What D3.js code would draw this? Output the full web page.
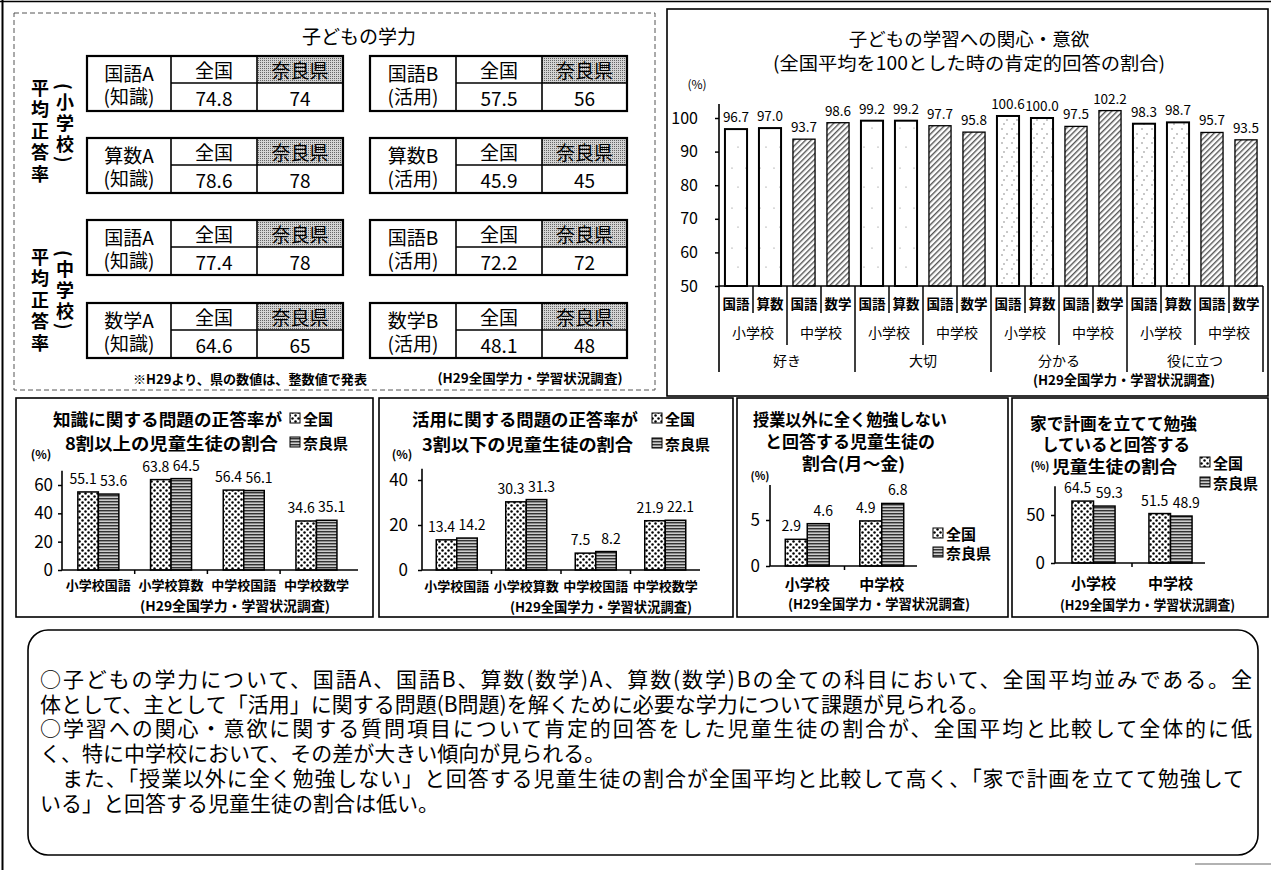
<!DOCTYPE html>
<html lang="ja">
<head>
<meta charset="UTF-8">
<title>子どもの学力・学習状況</title>
<style>
  body { margin: 0; background: #fff; }
  svg { display: block; }
</style>
</head>
<body>
<script src="https://cdnjs.cloudflare.com/ajax/libs/d3/7.8.5/d3.min.js"></script>
<script>
// ---- data ----
const tableSubjects = ['国語A', '国語B', '算数A', '算数B', '国語A', '国語B', '数学A', '数学B'];
const tableKinds = ['(知識)', '(活用)', '(知識)', '(活用)', '(知識)', '(活用)', '(知識)', '(活用)'];
const tableHeads = ['全国', '奈良県'];
const tableNational = [74.8, 57.5, 78.6, 45.9, 77.4, 72.2, 64.6, 48.1];
const tableNara = [74, 56, 78, 45, 78, 72, 65, 48];
const schoolLevels = ['小学校', '中学校'];

const interestGroups = ['好き', '大切', '分かる', '役に立つ'];
const interestSubjects = ['国語', '算数', '国語', '数学'];
const interestValues = [96.7, 97.0, 93.7, 98.6, 99.2, 99.2, 97.7, 95.8, 100.6, 100.0, 97.5, 102.2, 98.3, 98.7, 95.7, 93.5];
const interestTicks = [50, 60, 70, 80, 90, 100];

const seriesNames = ['全国', '奈良県'];
const subjectCats = ['小学校国語', '小学校算数', '中学校国語', '中学校数学'];
const knowNational = [55.1, 63.8, 56.4, 34.6];
const knowNara = [53.6, 64.5, 56.1, 35.1];
const useNational = [13.4, 30.3, 7.5, 21.9];
const useNara = [14.2, 31.3, 8.2, 22.1];
const noStudyNational = [2.9, 4.9];
const noStudyNara = [4.6, 6.8];
const planNational = [64.5, 51.5];
const planNara = [59.3, 48.9];

const source = '(H29全国学力・学習状況調査)';
const summaryLines = [
  '○子どもの学力について、国語A、国語B、算数(数学)A、算数(数学)Bの全ての科目において、全国平均並みである。全',
  '体として、主として「活用」に関する問題(B問題)を解くために必要な学力について課題が見られる。',
  '○学習への関心・意欲に関する質問項目について肯定的回答をした児童生徒の割合が、全国平均と比較して全体的に低',
  'く、特に中学校において、その差が大きい傾向が見られる。',
  '　また、「授業以外に全く勉強しない」と回答する児童生徒の割合が全国平均と比較して高く、「家で計画を立てて勉強して',
  'いる」と回答する児童生徒の割合は低い。'
];

// ---- setup ----
const FONT = '"Noto Sans CJK JP", "Noto Sans", sans-serif';
const fmt1 = d3.format('.1f');
const svg = d3.select('body').append('svg')
  .attr('width', 1271).attr('height', 870)
  .attr('font-family', FONT);
svg.append('rect').attr('width', 1271).attr('height', 870).attr('fill', '#fff');
const defs = svg.append('defs');

function pattern(id, w, h, draw) {
  const p = defs.append('pattern').attr('id', id)
    .attr('patternUnits', 'userSpaceOnUse').attr('width', w).attr('height', h);
  draw(p);
  return p;
}
pattern('dots', 6, 6, p => {
  p.append('rect').attr('width', 6).attr('height', 6).attr('fill', '#fff');
  p.append('circle').attr('cx', 1.5).attr('cy', 1.5).attr('r', 1.25).attr('fill', '#000');
  p.append('circle').attr('cx', 4.5).attr('cy', 4.5).attr('r', 1.25).attr('fill', '#000');
});
pattern('nara', 4, 3, p => {
  p.append('rect').attr('width', 4).attr('height', 3).attr('fill', '#8a8a8a');
  p.append('rect').attr('width', 4).attr('height', 1).attr('fill', '#333');
  p.append('rect').attr('y', 2).attr('width', 4).attr('height', 0.8).attr('fill', '#ddd');
});
pattern('hatch', 4, 4, p => {
  p.attr('patternTransform', 'rotate(45)');
  p.append('rect').attr('width', 4).attr('height', 4).attr('fill', '#fff');
  p.append('rect').attr('width', 1.4).attr('height', 4).attr('fill', '#555');
});
pattern('sparse', 14, 40, p => {
  p.append('rect').attr('width', 14).attr('height', 40).attr('fill', '#fff');
  p.append('circle').attr('cx', 4).attr('cy', 8).attr('r', 0.6).attr('fill', '#777');
  p.append('circle').attr('cx', 10).attr('cy', 27).attr('r', 0.6).attr('fill', '#777');
});
pattern('speckle', 10, 14, p => {
  p.append('rect').attr('width', 10).attr('height', 14).attr('fill', '#fff');
  [[2, 3], [7, 8], [4, 12]].forEach(([x, y]) =>
    p.append('circle').attr('cx', x).attr('cy', y).attr('r', 0.7).attr('fill', '#666'));
});
pattern('stipple', 2, 2, p => {
  p.append('rect').attr('width', 2).attr('height', 2).attr('fill', '#d4d4d4');
  p.append('rect').attr('width', 1).attr('height', 1).attr('fill', '#666');
});

function label(g, x, y, s, size, opt = {}) {
  const t = g.append('text').attr('x', x).attr('y', y)
    .attr('font-size', size)
    .attr('text-anchor', opt.anchor || 'middle')
    .attr('dominant-baseline', 'central')
    .attr('font-weight', opt.bold ? 'bold' : null)
    .text(s);
  if (opt.len) t.attr('textLength', opt.len).attr('lengthAdjust', 'spacingAndGlyphs');
  return t;
}
function vlabel(g, x, y, s, size, spacing) {
  return g.append('text').attr('x', x).attr('y', y)
    .attr('font-size', size).attr('font-weight', 'bold')
    .style('writing-mode', 'vertical-rl')
    .attr('letter-spacing', spacing)
    .text(s);
}
function line(g, x1, y1, x2, y2, w = 1.5, color = '#000') {
  return g.append('line').attr('x1', x1).attr('y1', y1).attr('x2', x2).attr('y2', y2)
    .attr('stroke', color).attr('stroke-width', w);
}

// page frame
line(svg, 2.5, 0, 2.5, 870, 2);
line(svg, 0, 1.5, 1271, 1.5, 1.5);

// ---- top left: tables ----
const tl = svg.append('g');
tl.append('rect').attr('x', 14).attr('y', 13).attr('width', 641).attr('height', 377)
  .attr('fill', 'none').attr('stroke', '#555').attr('stroke-width', 1).attr('stroke-dasharray', '5,3');
label(tl, 359, 35, '子どもの学力', 19);

[[79, 83], [248, 250]].forEach(([top, ptop], b) => {
  vlabel(tl, 40, top, '平均正答率', 18, 3.5);
  vlabel(tl, 65, ptop, '(' + schoolLevels[b] + ')', 18, 3);
});

const tableColX = [[87, 171, 257, 343], [370, 456, 542, 627]];
const tableTopY = [56, 138, 220, 303];
tableSubjects.forEach((subj, i) => {
  const [x0, x1, x2, x3] = tableColX[i % 2];
  const y0 = tableTopY[Math.floor(i / 2)], ym = y0 + 27, y1 = y0 + 55;
  const g = tl.append('g');
  g.append('rect').attr('x', x2).attr('y', y0).attr('width', x3 - x2).attr('height', ym - y0)
    .attr('fill', 'url(#stipple)');
  g.append('rect').attr('x', x0).attr('y', y0).attr('width', x3 - x0).attr('height', y1 - y0)
    .attr('fill', 'none').attr('stroke', '#000').attr('stroke-width', 2.2);
  line(g, x1, y0, x1, y1, 1.6);
  line(g, x2, y0, x2, y1, 1.6);
  line(g, x1, ym, x3, ym, 1.6);
  label(g, (x0 + x1) / 2, y0 + 16, subj, 19);
  label(g, (x0 + x1) / 2, y0 + 39, tableKinds[i], 19);
  label(g, (x1 + x2) / 2, y0 + 13.5, tableHeads[0], 19);
  label(g, (x2 + x3) / 2, y0 + 13.5, tableHeads[1], 19);
  label(g, (x1 + x2) / 2, y0 + 41, fmt1(tableNational[i]), 19);
  label(g, (x2 + x3) / 2, y0 + 41, tableNara[i], 19);
});
label(tl, 250, 378, '※H29より、県の数値は、整数値で発表', 13, { bold: true, len: 234 });
label(tl, 530, 377, source, 13, { bold: true, len: 185 });

// ---- top right: interest chart ----
const tr = svg.append('g');
tr.append('rect').attr('x', 667).attr('y', 9).attr('width', 601).attr('height', 387)
  .attr('fill', 'none').attr('stroke', '#000').attr('stroke-width', 1.6);
label(tr, 969, 38, '子どもの学習への関心・意欲', 18.5);
label(tr, 969, 62, '(全国平均を100とした時の肯定的回答の割合)', 18.5, { len: 392 });
label(tr, 697, 83, '(%)', 12);

const interest = interestValues.map((v, i) => ({
  key: i, value: v,
  group: interestGroups[Math.floor(i / 4)],
  school: schoolLevels[Math.floor(i / 2) % 2],
  subject: interestSubjects[i % 4]
}));
const ix = d3.scaleBand().domain(interest.map(d => d.key)).range([719, 1263])
  .paddingInner(0.35).paddingOuter(0.175);
const iy = d3.scaleLinear().domain([50, 100]).range([286, 118]);
const edge = k => k < interest.length ? ix(k) - ix.step() * ix.paddingInner() / 2 : ix.range()[1];

const yAx = tr.append('g').attr('transform', 'translate(719,0)')
  .call(d3.axisLeft(iy).tickValues(interestTicks).tickSize(4).tickPadding(17).tickFormat(d3.format('d')))
  .attr('font-family', FONT).attr('font-size', 16);
yAx.select('.domain').remove();
yAx.selectAll('line').attr('stroke-width', 1.5);

tr.selectAll('rect.bar').data(interest).join('rect').attr('class', 'bar')
  .attr('x', d => ix(d.key)).attr('width', ix.bandwidth())
  .attr('y', d => iy(d.value)).attr('height', d => iy(50) - iy(d.value))
  .attr('fill', d => d.school === '中学校' ? 'url(#hatch)'
    : (d.group === '分かる' || d.group === '役に立つ') ? 'url(#speckle)' : 'url(#sparse)')
  .attr('stroke', '#000').attr('stroke-width', d => d.school === '中学校' ? 1.3 : 2);
tr.selectAll('text.val').data(interest).join('text').attr('class', 'val')
  .attr('x', d => ix(d.key) + ix.bandwidth() / 2).attr('y', d => iy(d.value) - 7)
  .attr('text-anchor', 'middle').attr('font-size', 13.5).text(d => fmt1(d.value));

line(tr, 719, iy(104.2), 719, 372, 1.6);
line(tr, 719, iy(50), 1263, iy(50), 1.6);
d3.range(1, interest.length + 1).forEach(k => {
  const bottom = k % 4 === 0 ? 372 : k % 2 === 0 ? 345 : 313;
  line(tr, edge(k), iy(50), edge(k), bottom, 1.5);
});
interest.forEach((d, i) => {
  label(tr, ix(d.key) + ix.bandwidth() / 2, 303, d.subject, 13.5, { bold: true });
  if (i % 2 === 0) label(tr, (edge(i) + edge(i + 2)) / 2, 332, d.school, 14);
  if (i % 4 === 0) label(tr, (edge(i) + edge(i + 4)) / 2, 360, d.group, 14);
});
label(tr, 1124, 379, source, 13.5, { bold: true, len: 182 });

// ---- bottom panels ----
[[16, 357], [379, 354], [737, 271], [1012, 256]].forEach(([x, w]) =>
  svg.append('rect').attr('x', x).attr('y', 398).attr('width', w).attr('height', 219)
    .attr('fill', 'none').attr('stroke', '#000').attr('stroke-width', 1.6));

function pairChart(o) {
  const g = svg.append('g');
  const x = d3.scaleBand().domain(o.cats).range([o.x0, o.x0 + o.step * o.cats.length])
    .paddingInner(o.pad).paddingOuter(o.pad / 2);
  const xs = d3.scaleBand().domain(seriesNames).range([0, x.bandwidth()]);
  const y = d3.scaleLinear().domain([0, o.yMax]).range([o.y0, o.yMaxPx]);
  const rows = o.cats.flatMap((c, i) => seriesNames.map((s, j) => ({ cat: c, s, v: o.series[j][i] })));

  const ax = g.append('g').attr('transform', `translate(${o.x0},0)`)
    .call(d3.axisLeft(y).tickValues(o.ticks).tickSize(4).tickPadding(o.tickPad).tickFormat(d3.format('d')))
    .attr('font-family', FONT).attr('font-size', 17);
  ax.select('.domain').remove();
  ax.selectAll('line').attr('stroke-width', 1.5);

  g.selectAll('rect.bar').data(rows).join('rect').attr('class', 'bar')
    .attr('x', d => x(d.cat) + xs(d.s)).attr('width', xs.bandwidth())
    .attr('y', d => y(d.v)).attr('height', d => y(0) - y(d.v))
    .attr('fill', d => d.s === '全国' ? 'url(#dots)' : 'url(#nara)')
    .attr('stroke', '#000').attr('stroke-width', 1.5);
  // labels spread a little outward so each pair stays readable
  g.selectAll('text.val').data(rows).join('text').attr('class', 'val')
    .attr('x', d => x(d.cat) + xs(d.s) + xs.bandwidth() / 2 + (d.s === '全国' ? -5 : 5))
    .attr('y', d => y(d.v) - 8)
    .attr('text-anchor', 'middle').attr('font-size', 14).text(d => fmt1(d.v));

  line(g, o.x0, y(o.top), o.x0, y(0), 1.6);
  line(g, o.x0, y(0), o.xEnd, y(0), 1.6);
  o.cats.slice(1).forEach(c => {
    const bx = x(c) - x.step() * x.paddingInner() / 2;
    line(g, bx, y(0), bx, y(0) + 4, 1.5);
  });
  o.cats.forEach(c => label(g, x(c) + x.bandwidth() / 2, o.catY, c, o.catSize, { bold: true }));

  o.title.forEach(([s, cx, cy, len]) => label(g, cx, cy, s, 17, { bold: true, len }));
  label(g, o.pct[0], o.pct[1], '(%)', o.pct[2], { bold: true });
  seriesNames.forEach((s, j) => {
    const [lx, ly] = o.legend[j];
    g.append('rect').attr('x', lx).attr('y', ly - 5).attr('width', 10).attr('height', 10)
      .attr('fill', j === 0 ? 'url(#dots)' : 'url(#nara)').attr('stroke', '#000').attr('stroke-width', 1);
    label(g, lx + 13, ly, s, 15, { anchor: 'start', bold: true });
  });
  label(g, o.src[0], o.src[1], source, 13.5, { bold: true, len: o.src[2] });
}

pairChart({
  cats: subjectCats, series: [knowNational, knowNara],
  x0: 62, step: 72.7, pad: 0.436, xEnd: 358,
  y0: 570, yMax: 60, yMaxPx: 485, top: 70, ticks: [0, 20, 40, 60], tickPad: 5,
  catY: 584, catSize: 13,
  title: [['知識に関する問題の正答率が', 167.5, 418, 229], ['8割以上の児童生徒の割合', 171.5, 442, 213]],
  pct: [41, 453, 12], legend: [[290, 418], [290, 442]], src: [235, 605, 190]
});
pairChart({
  cats: subjectCats, series: [useNational, useNara],
  x0: 422, step: 69.5, pad: 0.41, xEnd: 700,
  y0: 570, yMax: 40, yMaxPx: 480, top: 45, ticks: [0, 20, 40], tickPad: 10,
  catY: 585, catSize: 13,
  title: [['活用に関する問題の正答率が', 525, 418, 226], ['3割以下の児童生徒の割合', 527.5, 443, 211]],
  pct: [402, 453, 12], legend: [[652, 418], [652, 443]], src: [601, 606, 182]
});
pairChart({
  cats: schoolLevels, series: [noStudyNational, noStudyNara],
  x0: 770, step: 74.5, pad: 0.41, xEnd: 917,
  y0: 566, yMax: 5, yMaxPx: 520, top: 8.8, ticks: [0, 5], tickPad: 6,
  catY: 583, catSize: 15,
  title: [['授業以外に全く勉強しない', 850, 418, 194], ['と回答する児童生徒の', 850, 440, 170], ['割合(月～金)', 853.5, 462, 103]],
  pct: [760, 475, 11], legend: [[933, 533], [933, 552]], src: [879, 603, 182]
});
pairChart({
  cats: schoolLevels, series: [planNational, planNara],
  x0: 1055, step: 77, pad: 0.44, xEnd: 1205,
  y0: 563, yMax: 50, yMaxPx: 515, top: 80, ticks: [0, 50], tickPad: 6,
  catY: 582, catSize: 15,
  title: [['家で計画を立てて勉強', 1113.5, 422, 167], ['していると回答する', 1116, 443, 148], ['児童生徒の割合', 1114.5, 465, 125]],
  pct: [1040, 465, 11], legend: [[1200, 462], [1200, 482]], src: [1147.5, 604, 175]
});

// ---- summary box: one text block, long lines stretched to the box width ----
const sb = svg.append('g');
sb.append('rect').attr('x', 28).attr('y', 630).attr('width', 1230).attr('height', 225)
  .attr('rx', 20).attr('fill', 'none').attr('stroke', '#000').attr('stroke-width', 1.6);
const lineTargets = [1212, null, 1212, null, 1204, null];
const para = sb.append('text').attr('font-size', 21).attr('dominant-baseline', 'central');
summaryLines.forEach((s, i) => {
  const ts = para.append('tspan').attr('x', 40).attr('y', 678 + i * 24.7).text(s);
  if (lineTargets[i]) {
    const natural = ts.node().getComputedTextLength();
    ts.attr('letter-spacing', (lineTargets[i] - natural) / (s.length - 1));
  }
});
line(svg, 1195, 864, 1271, 864, 1.2, '#666');
</script>
</body>
</html>
